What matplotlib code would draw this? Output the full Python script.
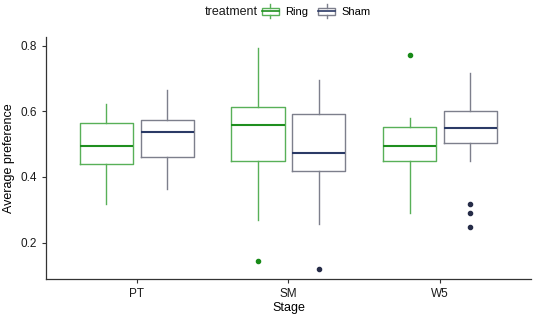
import matplotlib
matplotlib.use('Agg')
import matplotlib.pyplot as plt
from matplotlib.legend_handler import HandlerBase
from matplotlib.patches import Rectangle
from matplotlib.lines import Line2D

plt.rcParams['font.family'] = ['Liberation Sans', 'DejaVu Sans']

# Dados (whisker baixo, Q1, mediana, Q3, whisker alto, outliers)
stages = ['PT', 'SM', 'W5']
treatments = ['Ring', 'Sham']

ring_low = [0.318, 0.269, 0.290]
ring_q1 = [0.440, 0.449, 0.448]
ring_med = [0.495, 0.557, 0.494]
ring_q3 = [0.563, 0.614, 0.553]
ring_high = [0.622, 0.792, 0.580]
ring_out = [[], [0.143], [0.770]]

sham_low = [0.363, 0.256, 0.448]
sham_q1 = [0.462, 0.419, 0.503]
sham_med = [0.537, 0.474, 0.550]
sham_q3 = [0.574, 0.591, 0.600]
sham_high = [0.666, 0.695, 0.716]
sham_out = [[], [0.119], [0.318, 0.291, 0.247]]

# Estilos
cores = {
    'Ring': dict(edge='#58b058', med='#1f8f1f', out='#188a18'),
    'Sham': dict(edge='#7d7f8c', med='#2b3a66', out='#262c48'),
}
offsets = {'Ring': -0.2, 'Sham': 0.2}
width = 0.35

series = {
    'Ring': (ring_low, ring_q1, ring_med, ring_q3, ring_high, ring_out),
    'Sham': (sham_low, sham_q1, sham_med, sham_q3, sham_high, sham_out),
}

fig = plt.figure(figsize=(5.36, 3.21), dpi=100)
ax = fig.add_axes([0.0853, 0.13, 0.9054, 0.7557])

for t in treatments:
    low, q1, med, q3, high, out = series[t]
    stats = []
    for i in range(len(stages)):
        stats.append(dict(whislo=low[i], q1=q1[i], med=med[i], q3=q3[i],
                          whishi=high[i], fliers=out[i]))
    pos = [i + 1 + offsets[t] for i in range(len(stages))]
    c = cores[t]
    ax.bxp(stats, positions=pos, widths=width, showcaps=False,
           boxprops=dict(color=c['edge'], linewidth=1.0),
           whiskerprops=dict(color=c['edge'], linewidth=1.0),
           medianprops=dict(color=c['med'], linewidth=1.5),
           flierprops=dict(marker='o', markersize=3, markerfacecolor=c['out'],
                           markeredgecolor=c['out'], linestyle='none'),
           manage_ticks=False)

ax.set_xlim(0.4, 3.6)
ax.set_ylim(0.088, 0.827)
ax.set_xticks([1, 2, 3])
ax.set_xticklabels(stages)
ax.set_yticks([0.2, 0.4, 0.6, 0.8])
ax.set_yticklabels(['0.2', '0.4', '0.6', '0.8'])
ax.tick_params(labelsize=8.5, colors='#333333', labelcolor='#1a1a1a', length=3, width=0.8)
ax.spines['top'].set_visible(False)
ax.spines['right'].set_visible(False)
for s in ['left', 'bottom']:
    ax.spines[s].set_color('#333333')
    ax.spines[s].set_linewidth(0.9)
ax.set_xlabel('Stage', fontsize=9, labelpad=1)
ax.set_ylabel('Average preference', fontsize=9, labelpad=4)


# Legenda com símbolo de boxplot
class BoxHandler(HandlerBase):
    def create_artists(self, legend, orig_handle, xdescent, ydescent,
                       width, height, fontsize, trans):
        c = orig_handle.get_color()
        m = orig_handle.get_markerfacecolor()
        x0, x1 = -xdescent, -xdescent + width
        y0, y1 = -ydescent - 0.2 * height, -ydescent + 1.2 * height
        h = y1 - y0
        rect = Rectangle((x0, y0 + 0.25 * h), width, 0.5 * h,
                         facecolor='white', edgecolor=c, lw=1.0, transform=trans)
        med = Line2D([x0, x1], [y0 + 0.5 * h] * 2, color=m, lw=1.2, transform=trans)
        wl = Line2D([x0 + 0.5 * width] * 2, [y0, y0 + 0.25 * h], color=c, lw=1.0, transform=trans)
        wh = Line2D([x0 + 0.5 * width] * 2, [y1 - 0.25 * h, y1], color=c, lw=1.0, transform=trans)
        return [rect, med, wl, wh]


handles = [Line2D([], [], color=cores[t]['edge'], markerfacecolor=cores[t]['med']) for t in treatments]
leg = fig.legend(handles, treatments, loc='center', bbox_to_anchor=(0.59, 0.963), ncol=2,
                 frameon=False, fontsize=8, handlelength=1.5, handleheight=1.0,
                 handletextpad=0.6, columnspacing=0.9,
                 handler_map={Line2D: BoxHandler()})
fig.text(0.382, 0.963, 'treatment', fontsize=9, va='center', ha='left', color='#1a1a1a')

fig.savefig('out.png', dpi=100, facecolor='white')
